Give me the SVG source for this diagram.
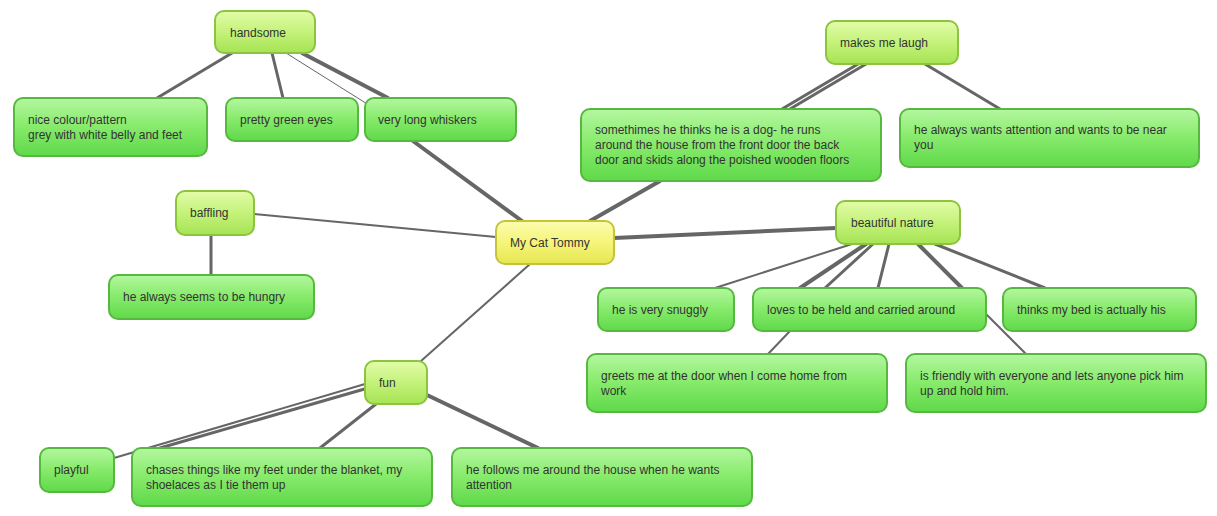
<svg xmlns="http://www.w3.org/2000/svg" width="1217" height="516" viewBox="0 0 1217 516">
<defs>
<linearGradient id="g" x1="0" y1="0" x2="0" y2="1"><stop offset="0" stop-color="#b4f7a0"/><stop offset="0.5" stop-color="#86ea6a"/><stop offset="1" stop-color="#5fd94a"/></linearGradient>
<linearGradient id="l" x1="0" y1="0" x2="0" y2="1"><stop offset="0" stop-color="#e2fca8"/><stop offset="0.5" stop-color="#c4f27a"/><stop offset="1" stop-color="#a6e354"/></linearGradient>
<linearGradient id="y" x1="0" y1="0" x2="0" y2="1"><stop offset="0" stop-color="#fcfcb0"/><stop offset="0.5" stop-color="#f5f57a"/><stop offset="1" stop-color="#e6e650"/></linearGradient>
</defs>
<style>
rect{stroke-width:2;}
.g{fill:url(#g);stroke:#56b83e;}
.l{fill:url(#l);stroke:#8cc43e;}
.y{fill:url(#y);stroke:#c4c43a;}
text{font-family:"Liberation Sans",Arial,sans-serif;font-size:12px;fill:#333;}
line{stroke:#666;stroke-linecap:round;}
</style>
<rect width="1217" height="516" fill="#fff"/>
<g id="connectors">
<line x1="232" y1="53" x2="157" y2="98" stroke-width="3"/>
<line x1="272" y1="53" x2="283" y2="98" stroke-width="3"/>
<line x1="286" y1="53" x2="380" y2="112" stroke-width="1"/>
<line x1="302" y1="53" x2="388" y2="98" stroke-width="4"/>
<line x1="413" y1="141" x2="522" y2="221" stroke-width="4"/>
<line x1="254" y1="214" x2="496" y2="237" stroke-width="2"/>
<line x1="211" y1="235" x2="211" y2="275" stroke-width="3"/>
<line x1="590" y1="221" x2="660" y2="181" stroke-width="4"/>
<line x1="858" y1="64" x2="782" y2="109" stroke-width="3"/>
<line x1="866" y1="64" x2="790" y2="109" stroke-width="3"/>
<line x1="925" y1="64" x2="1000" y2="109" stroke-width="3"/>
<line x1="614" y1="238" x2="836" y2="228" stroke-width="4"/>
<line x1="852" y1="244" x2="715" y2="288" stroke-width="2"/>
<line x1="866" y1="244" x2="800" y2="288" stroke-width="4"/>
<line x1="873" y1="244" x2="825" y2="288" stroke-width="3"/>
<line x1="889" y1="244" x2="878" y2="288" stroke-width="3"/>
<line x1="918" y1="244" x2="962" y2="288" stroke-width="4"/>
<line x1="935" y1="244" x2="1045" y2="288" stroke-width="3"/>
<line x1="985" y1="313" x2="1026" y2="354" stroke-width="2"/>
<line x1="790" y1="331" x2="768" y2="354" stroke-width="2"/>
<line x1="530" y1="264" x2="421" y2="361" stroke-width="2"/>
<line x1="365" y1="384" x2="114" y2="458" stroke-width="2"/>
<line x1="368" y1="388" x2="160" y2="448" stroke-width="3"/>
<line x1="376" y1="404" x2="320" y2="448" stroke-width="3"/>
<line x1="427" y1="395" x2="538" y2="448" stroke-width="4"/>
</g>
<g id="handsome"><rect class="l" x="215" y="11" width="100" height="42" rx="9"/><text x="230" y="37">handsome</text></g>
<g id="nice"><rect class="g" x="14" y="98" width="193" height="58" rx="9"/><text x="28" y="124">nice colour/pattern</text><text x="28" y="139">grey with white belly and feet</text></g>
<g id="eyes"><rect class="g" x="226" y="98" width="132" height="43" rx="9"/><text x="240" y="124">pretty green eyes</text></g>
<g id="whiskers"><rect class="g" x="365" y="98" width="151" height="43" rx="9"/><text x="378" y="124">very long whiskers</text></g>
<g id="laugh"><rect class="l" x="826" y="21" width="132" height="43" rx="9"/><text x="840" y="47">makes me laugh</text></g>
<g id="dog"><rect class="g" x="581" y="109" width="300" height="72" rx="9"/><text x="595" y="134">somethimes he thinks he is a dog- he runs</text><text x="595" y="149">around the house from the front door the back</text><text x="595" y="164">door and skids along the poished wooden floors</text></g>
<g id="attention"><rect class="g" x="900" y="109" width="299" height="58" rx="9"/><text x="914" y="134">he always wants attention and wants to be near</text><text x="914" y="149">you</text></g>
<g id="baffling"><rect class="l" x="176" y="191" width="78" height="44" rx="9"/><text x="190" y="217">baffling</text></g>
<g id="tommy"><rect class="y" x="496" y="221" width="118" height="43" rx="9"/><text x="510" y="247">My Cat Tommy</text></g>
<g id="nature"><rect class="l" x="836" y="201" width="124" height="43" rx="9"/><text x="851" y="227">beautiful nature</text></g>
<g id="hungry"><rect class="g" x="109" y="275" width="205" height="44" rx="9"/><text x="123" y="301">he always seems to be hungry</text></g>
<g id="snuggly"><rect class="g" x="598" y="288" width="136" height="43" rx="9"/><text x="612" y="314">he is very snuggly</text></g>
<g id="held"><rect class="g" x="753" y="288" width="233" height="43" rx="9"/><text x="767" y="314">loves to be held and carried around</text></g>
<g id="bed"><rect class="g" x="1003" y="288" width="193" height="43" rx="9"/><text x="1017" y="314">thinks my bed is actually his</text></g>
<g id="greets"><rect class="g" x="587" y="354" width="300" height="58" rx="9"/><text x="601" y="380">greets me at the door when I come home from</text><text x="601" y="395">work</text></g>
<g id="friendly"><rect class="g" x="906" y="354" width="300" height="58" rx="9"/><text x="920" y="380">is friendly with everyone and lets anyone pick him</text><text x="920" y="395">up and hold him.</text></g>
<g id="fun"><rect class="l" x="365" y="361" width="62" height="43" rx="9"/><text x="379" y="387">fun</text></g>
<g id="playful"><rect class="g" x="40" y="448" width="74" height="44" rx="9"/><text x="54" y="474">playful</text></g>
<g id="chases"><rect class="g" x="132" y="448" width="300" height="58" rx="9"/><text x="146" y="474">chases things like my feet under the blanket, my</text><text x="146" y="489">shoelaces as I tie them up</text></g>
<g id="follows"><rect class="g" x="452" y="448" width="300" height="58" rx="9"/><text x="466" y="474">he follows me around the house when he wants</text><text x="466" y="489">attention</text></g>
</svg>
